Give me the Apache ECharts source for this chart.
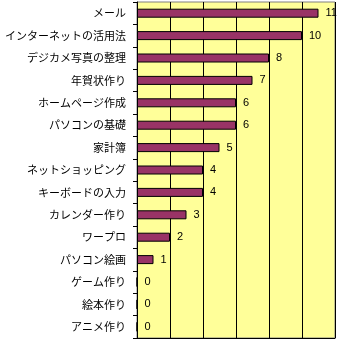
<!DOCTYPE html>
<html><head><meta charset="utf-8">
<script src="https://cdn.jsdelivr.net/npm/echarts@6/dist/echarts.min.js"></script>
<style>html,body{margin:0;padding:0;background:#fff}#c{width:338px;height:343px}</style>
</head><body><div id="c"></div>
<script>
const categories = ["メール","インターネットの活用法","デジカメ写真の整理","年賀状作り","ホームページ作成","パソコンの基礎","家計簿","ネットショッピング","キーボードの入力","カレンダー作り","ワープロ","パソコン絵画","ゲーム作り","絵本作り","アニメ作り"];
const values = [11,10,8,7,6,6,5,4,4,3,2,1,0,0,0];
const xTicks = [0,2,4,6,8,10,12];

const chart = echarts.init(document.getElementById('c'), null, {renderer:'canvas'});
chart.setOption({
  animation:false,
  backgroundColor:'#ffffff',
  grid:{left:137,right:3,top:2,bottom:5,show:true,backgroundColor:'#FFFF99',borderColor:'#808080',borderWidth:1,containLabel:false},
  xAxis:{type:'value',min:xTicks[0],max:xTicks[xTicks.length-1],interval:2,
    axisLine:{show:true,onZero:false,lineStyle:{color:'#000',width:1}},
    axisTick:{show:false},axisLabel:{show:false},
    splitLine:{show:true,lineStyle:{color:'#000',width:1}}},
  yAxis:{type:'category',data:categories,inverse:true,
    axisLine:{show:true,lineStyle:{color:'#000',width:1}},
    axisTick:{show:true,length:4,alignWithLabel:false,lineStyle:{color:'#000'}},
    axisLabel:{color:'#000',fontSize:11,fontFamily:'"Noto Sans CJK JP", sans-serif',margin:11},
    splitLine:{show:false}},
  series:[{type:'bar',data:values,barWidth:9,
    itemStyle:{color:'#993366',borderColor:'#000',borderWidth:1},
    label:{show:true,position:'right',distance:7,color:'#000',fontSize:11,fontFamily:'Arial, "Liberation Sans", sans-serif'}}]
});
</script></body></html>
